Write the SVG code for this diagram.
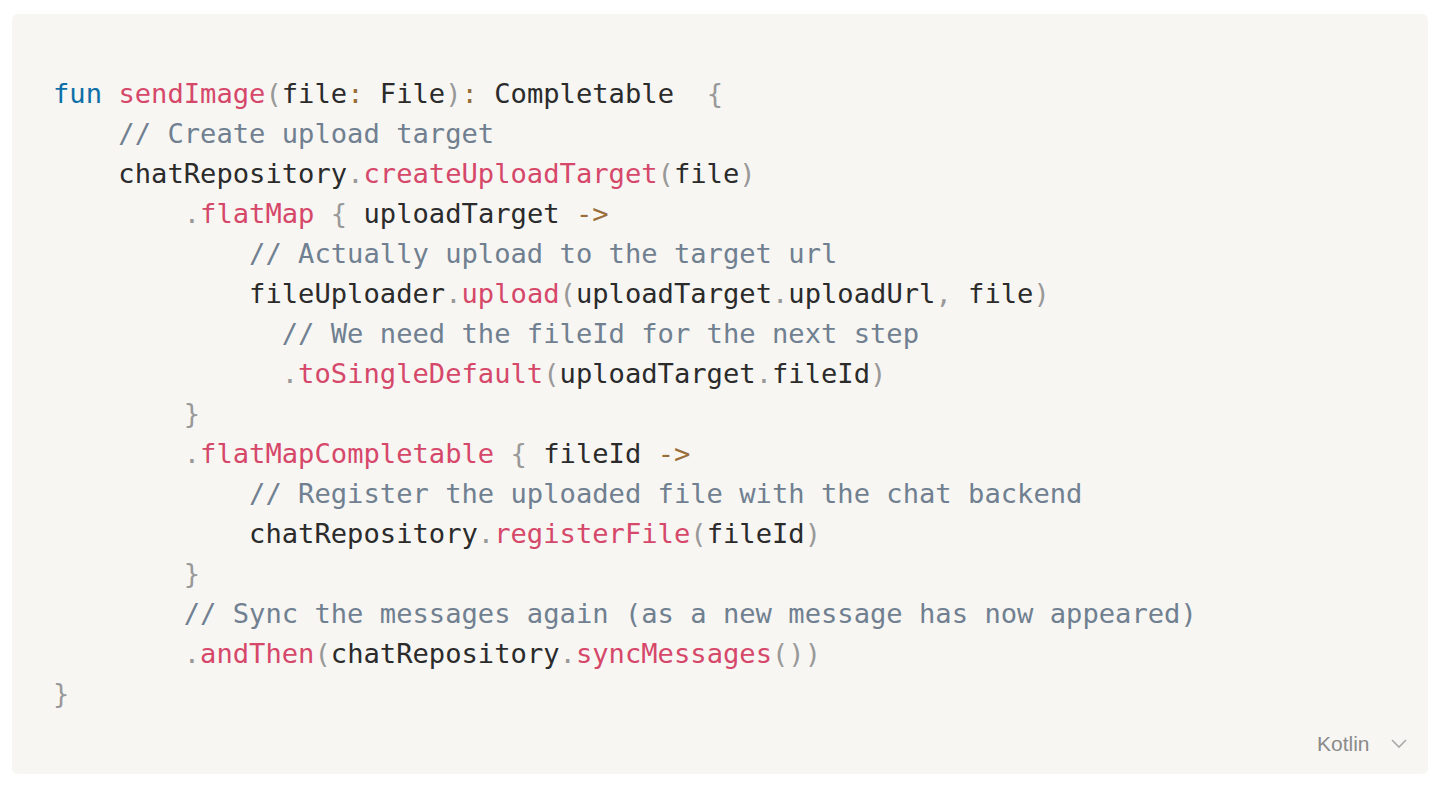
<svg xmlns="http://www.w3.org/2000/svg" width="1440" height="786" viewBox="0 0 1440 786">
<style>
text{font-family:"DejaVu Sans Mono","Liberation Mono",monospace;font-size:27.15px;fill:#2b2b2b;white-space:pre}
.k{fill:#0d6fa8}.f{fill:#d6486a}.c{fill:#708090}.p{fill:#999}.o{fill:#9a6e3a}
.lang{font-family:"Liberation Sans",Arial,sans-serif;font-size:21px;fill:#8a8a8a}
</style>
<rect x="12" y="14" width="1416" height="760" rx="6" fill="#f7f6f3"/>
<g id="code" xml:space="preserve">
<text x="53" y="103"><tspan class="k">fun</tspan> <tspan class="f">sendImage</tspan><tspan class="p">(</tspan>file<tspan class="o">:</tspan> File<tspan class="p">)</tspan><tspan class="o">:</tspan> Completable  <tspan class="p">{</tspan></text>
<text x="53" y="143" class="c">    // Create upload target</text>
<text x="53" y="183">    chatRepository<tspan class="p">.</tspan><tspan class="f">createUploadTarget</tspan><tspan class="p">(</tspan>file<tspan class="p">)</tspan></text>
<text x="53" y="223">        <tspan class="p">.</tspan><tspan class="f">flatMap</tspan> <tspan class="p">{</tspan> uploadTarget <tspan class="o">-&gt;</tspan></text>
<text x="53" y="263" class="c">            // Actually upload to the target url</text>
<text x="53" y="303">            fileUploader<tspan class="p">.</tspan><tspan class="f">upload</tspan><tspan class="p">(</tspan>uploadTarget<tspan class="p">.</tspan>uploadUrl<tspan class="p">,</tspan> file<tspan class="p">)</tspan></text>
<text x="53" y="343" class="c">              // We need the fileId for the next step</text>
<text x="53" y="383">              <tspan class="p">.</tspan><tspan class="f">toSingleDefault</tspan><tspan class="p">(</tspan>uploadTarget<tspan class="p">.</tspan>fileId<tspan class="p">)</tspan></text>
<text x="53" y="423" class="p">        }</text>
<text x="53" y="463">        <tspan class="p">.</tspan><tspan class="f">flatMapCompletable</tspan> <tspan class="p">{</tspan> fileId <tspan class="o">-&gt;</tspan></text>
<text x="53" y="503" class="c">            // Register the uploaded file with the chat backend</text>
<text x="53" y="543">            chatRepository<tspan class="p">.</tspan><tspan class="f">registerFile</tspan><tspan class="p">(</tspan>fileId<tspan class="p">)</tspan></text>
<text x="53" y="583" class="p">        }</text>
<text x="53" y="623" class="c">        // Sync the messages again (as a new message has now appeared)</text>
<text x="53" y="663">        <tspan class="p">.</tspan><tspan class="f">andThen</tspan><tspan class="p">(</tspan>chatRepository<tspan class="p">.</tspan><tspan class="f">syncMessages</tspan><tspan class="p">())</tspan></text>
<text x="53" y="703" class="p">}</text>
</g>
<g id="lang">
<text x="1317" y="751" class="lang">Kotlin</text>
<path d="M1392 740 L1399 747 L1406 740" fill="none" stroke="#aaa" stroke-width="1.6"/>
</g>
</svg>
